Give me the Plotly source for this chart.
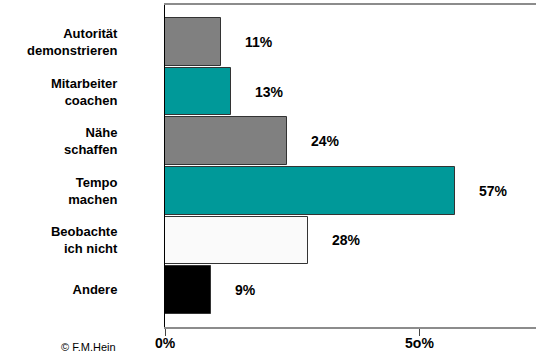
import plotly.graph_objects as go

categories = ["Autorität<br>demonstrieren", "Mitarbeiter<br>coachen", "Nähe<br>schaffen",
              "Tempo<br>machen", "Beobachte<br>ich nicht", "Andere"]
values = [11, 13, 24, 57, 28, 9]
value_labels = ["11%", "13%", "24%", "57%", "28%", "9%"]
bar_colors = ["#808080", "#009999", "#808080", "#009999", "#FAFAFA", "#000000"]
x_tick_vals = [0, 50]
x_tick_text = ["0%", "5o%"]
credit = "© F.M.Hein"

FONT = "Liberation Sans, Arial, sans-serif"

fig = go.Figure()
fig.add_trace(go.Bar(
    x=values, y=categories, orientation="h",
    marker=dict(color=bar_colors, line=dict(color="#333333", width=1)),
    width=0.96,
    hoverinfo="skip",
))

annotations = []
for v, c, t in zip(values, categories, value_labels):
    annotations.append(dict(
        x=v, y=c, xref="x", yref="y", text=t, showarrow=False,
        xanchor="left", yanchor="middle", xshift=22,
        font=dict(family=FONT, size=14, color="#000000", weight="bold"),
    ))
annotations.append(dict(
    x=0, y=0, xref="paper", yref="paper", text=credit, showarrow=False,
    xanchor="right", yanchor="middle", xshift=-47, yshift=-20,
    font=dict(family=FONT, size=11, color="#000000"),
))

fig.update_layout(
    width=536, height=352,
    margin=dict(l=165, r=0, t=5, b=25, autoexpand=False),
    paper_bgcolor="white", plot_bgcolor="white",
    showlegend=False,
    bargap=0,
    annotations=annotations,
    xaxis=dict(
        range=[0, 72.9], showgrid=False, zeroline=False,
        showline=True, linecolor="#8C8C8C", linewidth=2, mirror=True,
        tickmode="array", tickvals=x_tick_vals, ticktext=x_tick_text,
        ticks="outside", ticklen=7, tickcolor="#444444", tickwidth=1,
        ticklabelstandoff=-5,
        tickfont=dict(family=FONT, size=14, color="#000000", weight="bold"),
        automargin=False, fixedrange=True,
    ),
    yaxis=dict(
        autorange=False, range=[5.75, -0.75],
        showgrid=False, zeroline=False,
        showline=True, linecolor="#000000", linewidth=1,
        ticks="", ticklabelstandoff=44,
        tickfont=dict(family=FONT, size=13, color="#000000", weight="bold"),
        automargin=False, fixedrange=True,
    ),
)

fig.write_html(
    "out.html",
    config={"displayModeBar": False},
    post_script="document.body.style.margin='0';document.body.style.overflow='hidden';",
)
